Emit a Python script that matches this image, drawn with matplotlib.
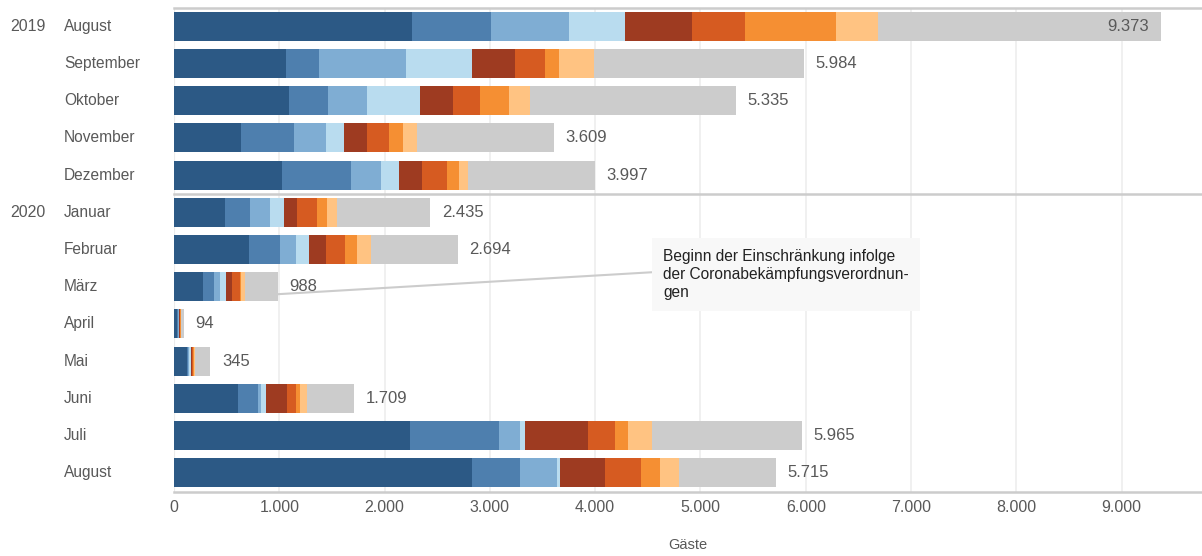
import matplotlib
matplotlib.use("Agg")
import matplotlib.pyplot as plt
from matplotlib.transforms import blended_transform_factory

plt.rcParams['font.family'] = ['Liberation Sans', 'DejaVu Sans']

# Monate und Jahre (Zeilen von oben nach unten)
monate = ["August", "September", "Oktober", "November", "Dezember",
          "Januar", "Februar", "März", "April", "Mai", "Juni", "Juli", "August"]
jahre = ["2019", "", "", "", "", "2020", "", "", "", "", "", "", ""]

# Gäste je Segment (von links nach rechts gestapelt)
seg1 = [2259, 1062, 1090, 638, 1025, 483, 708, 273, 27, 121, 608, 2243, 2830]
seg2 = [753, 313, 371, 501, 658, 240, 296, 110, 9, 15, 192, 848, 459]
seg3 = [742, 832, 376, 307, 282, 187, 152, 56, 9, 9, 25, 197, 346]
seg4 = [528, 619, 501, 169, 171, 135, 130, 53, 5, 14, 47, 41, 31]
seg5 = [638, 408, 316, 221, 219, 127, 154, 57, 5, 9, 203, 599, 428]
seg6 = [507, 285, 251, 210, 240, 186, 183, 75, 5, 16, 88, 263, 342]
seg7 = [857, 142, 281, 126, 111, 98, 114, 10, 3, 9, 38, 117, 183]
seg8 = [402, 326, 191, 140, 82, 88, 130, 43, 2, 9, 62, 228, 180]
seg9 = [2687, 1997, 1958, 1297, 1209, 891, 827, 311, 29, 143, 446, 1429, 916]

segmente = [seg1, seg2, seg3, seg4, seg5, seg6, seg7, seg8, seg9]
farben = ['#2c5985', '#4e7fae', '#7fadd3', '#b9dcef',
          '#9e3b21', '#d65b21', '#f58f33', '#ffc382', '#cccccc']

textfarbe = '#595959'

fig = plt.figure(figsize=(12.02, 5.56), dpi=100)
ax = fig.add_axes([174 / 1202, 1 - 491.5 / 556, 1 - 174 / 1202, (491.5 - 7.5) / 556])

y = list(range(len(monate)))
links = [0] * len(monate)
for werte, farbe in zip(segmente, farben):
    ax.barh(y, werte, left=links, height=0.78, color=farbe, linewidth=0, zorder=3)
    links = [l + w for l, w in zip(links, werte)]
summen = links

# Beschriftung der Summen
for i, s in enumerate(summen):
    txt = f"{s:,}".replace(",", ".")
    if s > 9000:
        ax.text(s - 110, i, txt, ha='right', va='center', fontsize=12, color=textfarbe, zorder=4)
    else:
        ax.text(s + 110, i, txt, ha='left', va='center', fontsize=12, color=textfarbe, zorder=4)

ax.set_xlim(0, 9763)
ax.set_ylim(12.5, -0.5)

# Achsen und Gitter
for sp in ax.spines.values():
    sp.set_visible(False)
ax.set_xticks(range(0, 10000, 1000))
ax.set_xticklabels([f"{v:,}".replace(",", ".") for v in range(0, 10000, 1000)])
ax.tick_params(axis='x', length=0, labelsize=11.5, labelcolor=textfarbe, pad=6)
ax.set_yticks([])
ax.grid(axis='x', color='#eeeeee', linewidth=1.2, zorder=0)
ax.axvline(0, color='#dddddd', linewidth=1.5, zorder=1)
for yy in (-0.5, 4.5, 12.5):
    ax.axhline(yy, color='#cccccc', linewidth=1.8, zorder=2, clip_on=False)

ax.set_xlabel("Gäste", fontsize=10.5, color=textfarbe, labelpad=17)

# Zeilenbeschriftungen
trans = blended_transform_factory(fig.transFigure, ax.transData)
for i, (j, m) in enumerate(zip(jahre, monate)):
    ax.text(10 / 1202, i, j, transform=trans, ha='left', va='center', fontsize=11.5, color=textfarbe)
    ax.text(64 / 1202, i, m, transform=trans, ha='left', va='center', fontsize=11.2, color=textfarbe)

# Anmerkung
ax.annotate("Beginn der Einschränkung infolge\nder Coronabekämpfungsverordnun-\ngen",
            xy=(summen[7], 7.2), xytext=(4644, 5.98), ha='left', va='top',
            fontsize=11.2, color='#222222', linespacing=1.24, zorder=5,
            bbox=dict(boxstyle='square,pad=0.72', fc='#f8f8f8', ec='none'),
            arrowprops=dict(arrowstyle='-', color='#cccccc', lw=1.5,
                            shrinkA=0, shrinkB=0, relpos=(0, 0.55)))

fig.savefig("out.png", dpi=100)
